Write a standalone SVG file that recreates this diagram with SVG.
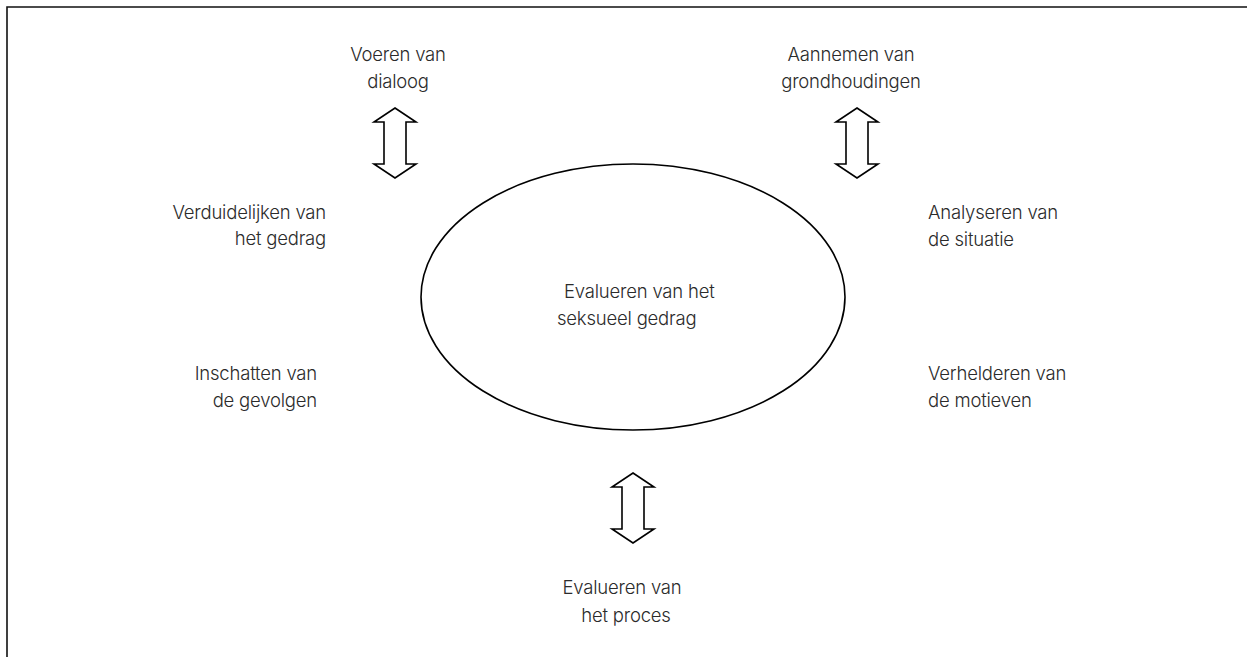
<svg xmlns="http://www.w3.org/2000/svg" width="1247" height="657" viewBox="0 0 1247 657">
<defs>
<style>
.t{font-family:Inter,"Liberation Sans",sans-serif;font-weight:300;font-size:18.5px;fill:#2b2b2b;letter-spacing:-0.2px}
.c{text-anchor:middle}
.r{text-anchor:end}
.frame{fill:none;stroke:#111;stroke-width:1.6}
.arr{fill:#fff;stroke:#000;stroke-width:1.6;stroke-linejoin:miter}
</style>
<path id="dbl" d="M0,0 L21,14 L11,14 L11,56 L21,56 L0,70 L-21,56 L-11,56 L-11,14 L-21,14 Z"/>
</defs>
<rect width="1247" height="657" fill="#fff"/>
<path class="frame" d="M7,657 L7,7 L1247,7"/>
<g id="center">
<ellipse cx="633" cy="297" rx="212" ry="133" fill="none" stroke="#000" stroke-width="1.6"/>
<text class="t" x="564" y="298">Evalueren van het</text>
<text class="t" x="557" y="325">seksueel gedrag</text>
</g>
<g id="connectors">
<use href="#dbl" class="arr" x="395" y="108"/>
<use href="#dbl" class="arr" x="857" y="108"/>
<use href="#dbl" class="arr" x="633" y="473"/>
</g>
<g id="n-dialoog">
<text class="t c" x="398" y="61">Voeren van</text>
<text class="t c" x="398" y="88">dialoog</text>
</g>
<g id="n-grondhoudingen">
<text class="t c" x="851" y="61">Aannemen van</text>
<text class="t c" x="851" y="88">grondhoudingen</text>
</g>
<g id="n-verduidelijken">
<text class="t r" x="326" y="219">Verduidelijken van</text>
<text class="t r" x="326" y="245">het gedrag</text>
</g>
<g id="n-inschatten">
<text class="t r" x="317" y="380">Inschatten van</text>
<text class="t r" x="317" y="407">de gevolgen</text>
</g>
<g id="n-analyseren">
<text class="t" x="928" y="219">Analyseren van</text>
<text class="t" x="928" y="246">de situatie</text>
</g>
<g id="n-verhelderen">
<text class="t" x="928" y="380">Verhelderen van</text>
<text class="t" x="928" y="407">de motieven</text>
</g>
<g id="n-proces">
<text class="t c" x="622" y="594">Evalueren van</text>
<text class="t c" x="626" y="622">het proces</text>
</g>
</svg>
